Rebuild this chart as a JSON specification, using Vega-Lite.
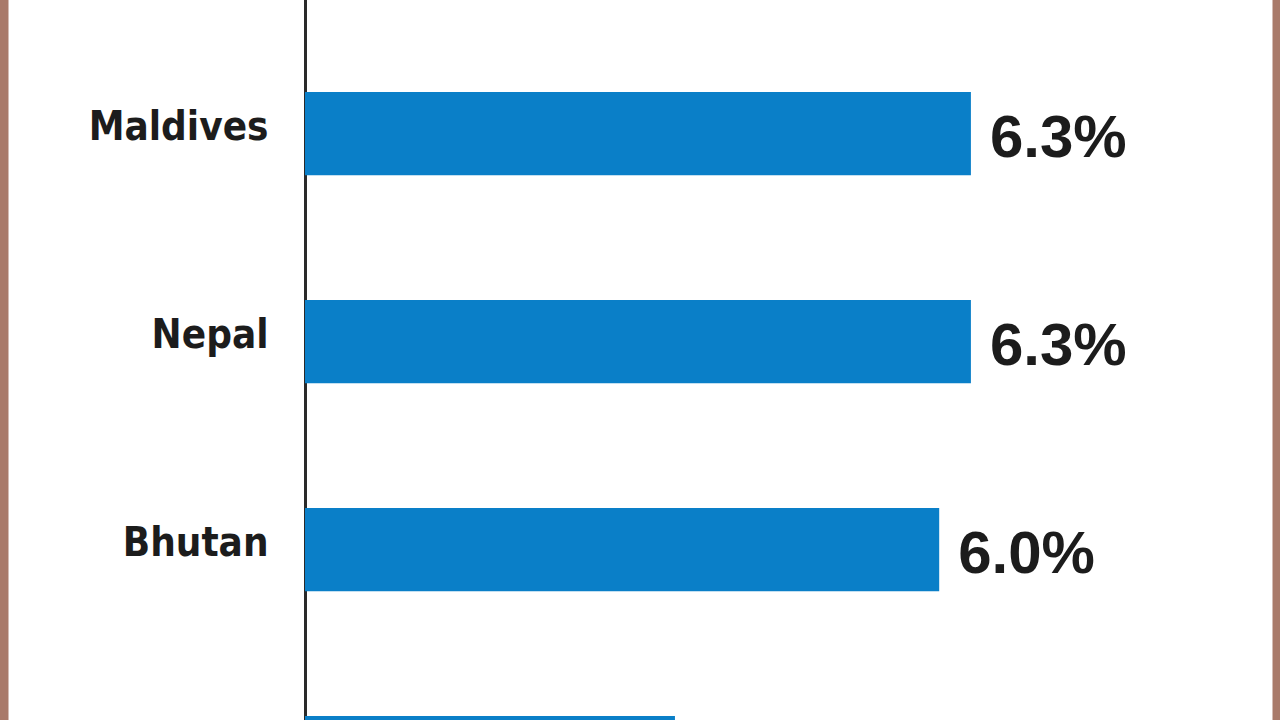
{
  "$schema": "https://vega.github.io/schema/vega-lite/v6.json",
  "width": 1280,
  "height": 720,
  "autosize": "none",
  "padding": 0,
  "background": "#ffffff",
  "config": {"view": {"stroke": null}},
  "data": {
    "values": [
      {"country": "Maldives", "growth": 6.3, "label": "6.3%"},
      {"country": "Nepal", "growth": 6.3, "label": "6.3%"},
      {"country": "Bhutan", "growth": 6.0, "label": "6.0%"},
      {"country": "Sri Lanka", "growth": 3.5, "label": "3.5%"}
    ]
  },
  "encoding": {
    "y": {
      "field": "country",
      "type": "nominal",
      "sort": null,
      "scale": {"range": [-12, 903.2], "paddingInner": 0.6, "paddingOuter": 0.5},
      "axis": {
        "orient": "left",
        "offset": -305,
        "title": null,
        "ticks": false,
        "domainColor": "#2a2a2a",
        "domainWidth": 3,
        "labelFont": "DejaVu Sans Condensed, Roboto, sans-serif",
        "labelFontWeight": "bold",
        "labelFontSize": 40,
        "labelColor": "#1c1c1c",
        "labelPadding": 37,
        "labelOffset": -6,
        "labelLimit": 400,
        "labelExpr": "datum.value == 'Sri Lanka' ? '' : datum.value"
      }
    },
    "x": {
      "field": "growth",
      "type": "quantitative",
      "scale": {"domain": [-2.8855, 9.2242], "nice": false, "zero": false},
      "axis": {
        "values": [-2.8855, 9.2242],
        "grid": true,
        "gridColor": "#a97a6a",
        "gridWidth": 16,
        "gridOpacity": 1,
        "labels": false,
        "ticks": false,
        "domain": false,
        "title": null
      }
    }
  },
  "layer": [
    {
      "mark": {"type": "bar", "color": "#0a7fc8"},
      "encoding": {"x2": {"datum": 0}}
    },
    {
      "transform": [{"filter": "datum.growth > 4"}],
      "mark": {
        "type": "text",
        "align": "left",
        "baseline": "middle",
        "dx": 19,
        "dy": 5,
        "font": "Liberation Sans",
        "fontWeight": "bold",
        "fontSize": 60,
        "color": "#1c1c1c"
      },
      "encoding": {"text": {"field": "label"}}
    }
  ]
}
